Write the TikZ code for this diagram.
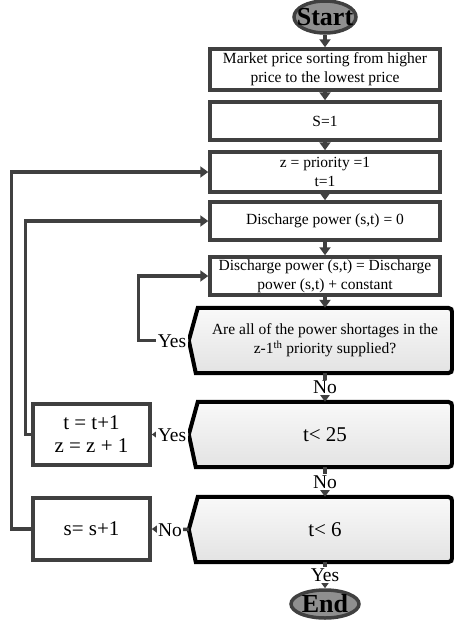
\documentclass[tikz,border=0pt]{standalone}
\usepackage{fontspec}
\setmainfont{Liberation Serif}
\usetikzlibrary{arrows.meta,shapes.geometric,backgrounds}
\definecolor{lineg}{HTML}{404040}
\definecolor{ovalg}{HTML}{8F8F8F}
\newcommand\decshapepath[1]{%
  \path[decshape] (#1.north west) -- ([shift={(-4,0)}]#1.north east)
    .. controls ([shift={(-1,0)}]#1.north east) and ([shift={(0,2)}]#1.north east) .. ([shift={(0,5)}]#1.north east)
    -- ([shift={(0,-5)}]#1.south east)
    .. controls ([shift={(0,-2)}]#1.south east) and ([shift={(-1,0)}]#1.south east) .. ([shift={(-4,0)}]#1.south east)
    -- ([shift={(-2,0)}]#1.south west) -- ([shift={(-9,0)}]#1.west) -- cycle;}
\begin{document}
\begin{tikzpicture}[x=1pt,y=-1pt,
  box/.style={draw=lineg, line width=3.5pt, fill=white, inner sep=0pt, align=center, minimum width=230pt, font=\fontsize{15.5}{19}\selectfont},
  smallbox/.style={draw=lineg, line width=3.5pt, fill=white, inner sep=0pt, align=center, minimum width=117pt, font=\fontsize{21}{23}\selectfont},
  term/.style={ellipse, draw=lineg, line width=3.5pt, fill=ovalg, inner sep=0pt},
  termtxt/.style={font=\fontsize{26}{26}\selectfont\bfseries, inner sep=0pt},
  dec/.style={inner sep=0pt, align=center, minimum width=254pt, minimum height=65pt},
  decshape/.style={draw=black, line width=4pt, top color=gray!5, bottom color=gray!22},
  arr/.style={draw=lineg, line width=3.5pt, -{Triangle[length=8pt,width=11pt]}},
  lbl/.style={fill=white, inner sep=1.5pt, font=\fontsize{19.5}{20}\selectfont}
]
\useasboundingbox (0,0) rectangle (453,621);

% terminals
\node[term, minimum width=62pt, minimum height=32pt] (start) at (325,17) {};
\node[termtxt] (starttxt) at (start.center) {Start};
\node[term, minimum width=68pt, minimum height=28pt] (end) at (325,604) {};
\node[termtxt] (endtxt) at (end.center) {End};

% process boxes
\node[box, minimum height=41pt] (box1) at (325,69.5) {Market price sorting from higher\\price to the lowest price};
\node[box, minimum height=38pt] (box2) at (325,121) {S=1};
\node[box, minimum height=40pt] (box3) at (325,172) {z = priority =1\\t=1};
\node[box, minimum height=38pt] (box4) at (325,221) {Discharge power (s,t) = 0};
\node[box, minimum height=38pt] (box5) at (325,276) {Discharge power (s,t) = Discharge\\power (s,t) + constant};

\node[smallbox, minimum height=61pt] (tbox) at (91.5,434.5) {t = t+1\\z = z + 1};
\node[smallbox, minimum height=62pt] (sbox) at (91.5,529) {s= s+1};

% decisions
\node[dec, font=\fontsize{15.5}{19}\selectfont] (d1) at (325,340.5) {Are all of the power shortages in the\\z-1\textsuperscript{th} priority supplied?};
\node[dec, font=\fontsize{21}{23}\selectfont] (d2) at (325,434.5) {t< 25};
\node[dec, font=\fontsize{21}{23}\selectfont] (d3) at (325,529.5) {t< 6};
\coordinate (d1w) at ([shift={(-9,0)}]d1.west);
\coordinate (d2w) at ([shift={(-9,0)}]d2.west);
\coordinate (d3w) at ([shift={(-9,0)}]d3.west);
\begin{scope}[on background layer]
  \decshapepath{d1}
  \decshapepath{d2}
  \decshapepath{d3}
\end{scope}

% main flow
\draw[arr] (start) -- (box1);
\draw[arr] (box1) -- (box2);
\draw[arr] (box2) -- (box3);
\draw[arr] (box3) -- (box4);
\draw[arr] (box4) -- (box5);
\draw[arr] (box5) -- (d1);
\draw[arr] (d1) -- (d2) node[lbl, midway] (no1) {No};
\draw[arr] (d2) -- (d3) node[lbl, midway] (no2) {No};
\draw[arr] (d3) -- (end) node[lbl, midway] (yes3) {Yes};

% side branches
\draw[arr] (d1w) -| ([xshift=-70pt]box5.west) -- (box5.west);
\node[lbl] (yes1) at (172,341) {Yes};
\draw[arr] (d2w) -- (tbox.east);
\node[lbl] (yes2) at (172,435) {Yes};
\draw[arr] (d3w) -- (sbox.east);
\node[lbl] (no3) at (170,530) {No};

% loops back
\draw[arr] (tbox.west) -| ([xshift=-183pt]box4.west) -- (box4.west);
\draw[arr] (sbox.west) -| ([xshift=-197pt]box3.west) -- (box3.west);
\end{tikzpicture}
\end{document}
